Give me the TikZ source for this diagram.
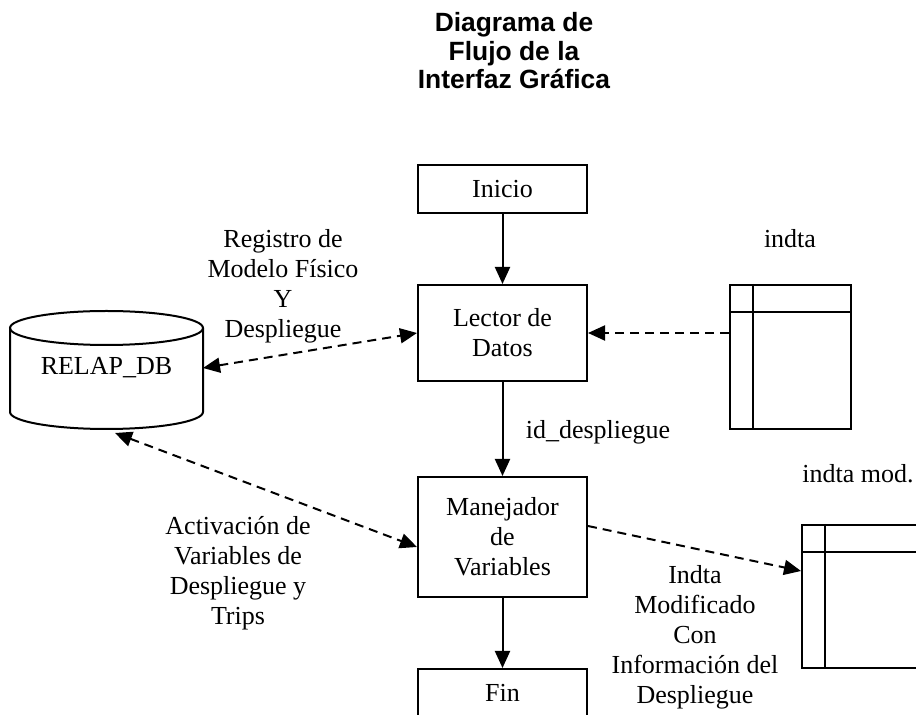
\documentclass[tikz,border=0pt]{standalone}
\usepackage{fontspec}
\setmainfont{Liberation Serif}
\newfontfamily\titlefont{Liberation Sans}
\usetikzlibrary{arrows.meta,calc}

\begin{document}
\begin{tikzpicture}[x=0.5pt,y=-0.5pt,line width=1pt,
  every node/.style={font=\fontsize{13}{15}\selectfont},
  procbox/.style={draw,minimum width=84.5pt,inner sep=0pt,align=center},
  tablebox/.style={draw,minimum width=60.5pt,inner sep=0pt},
  lbl/.style={align=center,inner sep=0pt},
  flow/.style={-{Triangle[length=8.5pt,width=7.5pt]}},
  dashflow/.style={dash pattern=on 4.5pt off 3pt},
  tipA/.style={-{Triangle[length=8.5pt,width=7.5pt]}},
  tipB/.style={{Triangle[length=8.5pt,width=7.5pt]}-{Triangle[length=8.5pt,width=7.5pt]}}]

\useasboundingbox (0,0) rectangle (916,715);
\clip (0,0) rectangle (916,715);

% title
\node[lbl,font=\titlefont\bfseries\fontsize{13.2}{14.25}\selectfont] (title) at (514,51)
  {Diagrama de\\Flujo de la\\Interfaz Gráfica};

% process boxes
\node[procbox,minimum height=24pt] (inicio) at (502.5,189) {Inicio};
\node[procbox,minimum height=48pt] (lector) at (502.5,333) {Lector de\\Datos};
\node[procbox,minimum height=60pt] (manejador) at (502.5,537) {Manejador\\de\\Variables};
\node[procbox,minimum height=24pt] (fin) at (502.5,693) {Fin};

% database cylinder
\draw (10,328) -- (10,412) arc[start angle=180,end angle=0,x radius=96.5,y radius=17] -- (203,328);
\draw (106.5,328) ellipse[x radius=96.5,y radius=17];
\node[lbl] (db) at (106.5,368) {RELAP\_DB};
\coordinate (dbE) at (203,368);
\coordinate (dbS) at (115,433);

% data files
\node[tablebox,minimum height=72pt] (t1) at (790.5,357) {};
\draw ($(t1.north west)+(24,0)$) -- ($(t1.south west)+(24,0)$);
\draw ($(t1.north west)+(0,28)$) -- ($(t1.north east)+(0,28)$);
\node[lbl] (t1lbl) at (790,239) {indta};

\node[tablebox,minimum height=71.5pt] (t2) at (862.5,596.5) {};
\draw ($(t2.north west)+(24,0)$) -- ($(t2.south west)+(24,0)$);
\draw ($(t2.north west)+(0,28)$) -- ($(t2.north east)+(0,28)$);
\node[lbl] (t2lbl) at (858,474) {indta mod.};

% main flow
\draw[flow] (inicio) -- (lector);
\draw[flow] (lector) -- (manejador);
\draw[flow] (manejador) -- (fin);
\node[lbl] (idlbl) at (598,432) {id\_despliegue};

% data exchanges
\draw[dashflow,tipB] (dbE) -- (lector.west);
\draw[dashflow,tipB] (dbS) -- ($(manejador.west)+(0,10)$);
\draw[dashflow,tipA] (t1.west |- lector.east) -- (lector.east);
\draw[dashflow,tipA] ($(manejador.east)+(0,-11)$) -- ($(t2.north west)+(0,47)$);

% connector labels
\node[lbl] (reglbl) at (283,286) {Registro de\\Modelo Físico\\Y\\Despliegue};
\node[lbl] (actlbl) at (238,573) {Activación de\\Variables de\\Despliegue y\\Trips};
\node[lbl] (modlbl) at (695,637) {Indta\\Modificado\\Con\\Información del\\Despliegue};

\end{tikzpicture}
\end{document}
